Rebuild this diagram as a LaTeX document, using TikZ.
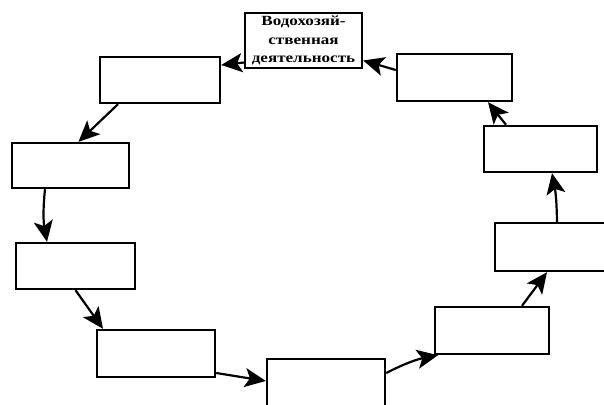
\documentclass[tikz,border=0pt]{standalone}
\usepackage{fontspec}
\setmainfont{Liberation Serif}
\newfontfamily\lblfont[FakeStretch=1.22]{Liberation Serif}
\usetikzlibrary{arrows.meta}
\begin{document}
\begin{tikzpicture}[x=1pt,y=-1pt,
  box/.style={draw=black,line width=2.4pt,fill=white,inner sep=0pt},
  conn/.style={draw=black,line width=2.2pt,-{Stealth[length=21pt,width=19pt,inset=5pt]}},
  lbl/.style={font=\lblfont\bfseries\fontsize{14}{18.5}\selectfont,align=center}]
\useasboundingbox (0,0) rectangle (604,404);
% boxes
\node[box,minimum width=117pt,minimum height=55pt,lbl] (T) at (303.5,40.5) {Водохозяй-\\ственная\\деятельность};
\node[box,minimum width=120pt,minimum height=46pt] (A) at (160,80) {};
\node[box,minimum width=117pt,minimum height=45pt] (B) at (70.5,165.5) {};
\node[box,minimum width=119pt,minimum height=46pt] (C) at (75.5,266) {};
\node[box,minimum width=118pt,minimum height=47pt] (D) at (156,353.5) {};
\node[box,minimum width=118pt,minimum height=47pt] (E) at (326,382.5) {};
\node[box,minimum width=114pt,minimum height=47pt] (F) at (492,330.5) {};
\node[box,minimum width=115pt,minimum height=48pt] (G) at (552.5,247) {};
\node[box,minimum width=115pt,minimum height=47pt] (H) at (454.5,77.5) {};
\node[box,minimum width=113pt,minimum height=46pt] (I) at (540.5,149) {};
% connectors
\draw[conn] ([yshift=7.5pt]H.west) -- ([yshift=-20pt]T.east);
\draw[conn] ([yshift=-22pt]T.west) -- ([yshift=15pt]A.east);
\draw[conn] ([xshift=-42pt]A.south) -- ([xshift=8pt]B.north);
\draw[conn] ([xshift=-25.5pt]B.south) to[bend right=8] ([xshift=-28.5pt]C.north);
\draw[conn] (C.south) -- ([xshift=-53pt]D.north);
\draw[conn] ([yshift=-19.5pt]D.east) -- ([yshift=1.5pt]E.west);
\draw[conn] ([yshift=9.5pt]E.east) to[bend left=8] ([xshift=-54pt]F.south);
\draw[conn] ([xshift=30pt]F.north) -- ([xshift=-5.5pt]G.south);
\draw[conn] ([xshift=4.5pt]G.north) to[bend right=5] ([xshift=11.5pt]I.south);
\draw[conn] ([xshift=-34.5pt]I.north) -- ([xshift=33.5pt]H.south);
\end{tikzpicture}
\end{document}
